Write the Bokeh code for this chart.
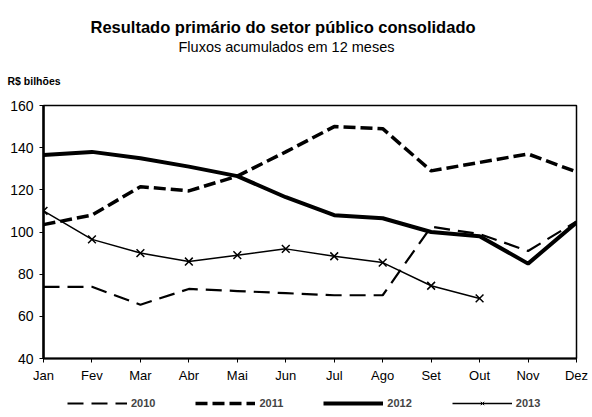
from bokeh.plotting import figure
from bokeh.layouts import column
from bokeh.models import Range1d, FixedTicker, Title, Legend, LegendItem
from bokeh.embed import file_html
from bokeh.resources import INLINE

months = ["Jan", "Fev", "Mar", "Abr", "Mai", "Jun", "Jul", "Ago", "Set", "Out", "Nov", "Dez"]
s2010 = [74, 74, 65.5, 73, 72, 71, 70, 70, 102.5, 99, 91, 105]
s2011 = [103.5, 108, 121.5, 119.5, 126.5, 138, 150, 149, 129, 133, 137, 128.5]
s2012 = [136.5, 138, 135, 131, 126.5, 116.5, 108, 106.5, 100, 98, 85, 104.5]
s2013 = [110, 96.5, 90, 86, 89, 92, 88.5, 85.5, 74.5, 68.5]
y_ticks = [40, 60, 80, 100, 120, 140, 160]
series_names = ["2010", "2011", "2012", "2013"]
title_text = "Resultado primário do setor público consolidado"
subtitle_text = "Fluxos acumulados em 12 meses"
unit_text = "R$ bilhões"

FONT = "Liberation Sans"
xs = list(range(len(months)))
series = {"2010": s2010, "2011": s2011, "2012": s2012, "2013": s2013}

styles = {
    "2010": dict(line_width=2.2, line_dash="16 8"),
    "2011": dict(line_width=3.5, line_dash="12 5"),
    "2012": dict(line_width=4),
    "2013": dict(line_width=1.5),
}

p = figure(width=592, height=390, output_backend="svg", toolbar_location=None,
           x_range=Range1d(0, len(months) - 1), y_range=Range1d(y_ticks[0], y_ticks[-1]),
           min_border_left=43, min_border_right=16, min_border_top=105, min_border_bottom=32)
p.background_fill_color = "white"
p.border_fill_color = "white"
p.outline_line_color = "black"
p.outline_line_width = 1.5
p.xgrid.grid_line_color = None
p.ygrid.grid_line_color = None

p.xaxis.ticker = FixedTicker(ticks=xs)
p.xaxis.major_label_overrides = {i: m for i, m in zip(xs, months)}
p.yaxis.ticker = FixedTicker(ticks=y_ticks)
for ax in (p.xaxis[0], p.yaxis[0]):
    ax.axis_line_color = "black"
    ax.major_tick_line_color = "black"
    ax.major_tick_out = 4
    ax.major_tick_in = 0
    ax.minor_tick_line_color = None
    ax.major_label_text_font = FONT
    ax.major_label_text_color = "black"
    ax.major_label_text_font_size = "13px"
p.yaxis.axis_line_width = 2.5
p.xaxis.axis_line_width = 2
p.yaxis.major_label_standoff = 6
p.xaxis.major_label_standoff = 5
p.yaxis.major_label_text_font_size = "14px"

for name in series_names:
    vals = series[name]
    p.line(xs[:len(vals)], vals, line_color="black", **styles[name])
p.scatter(xs[:len(s2013)], s2013, marker="x", size=11, line_color="black", line_width=1.5)

p.add_layout(Title(text=unit_text, align="left", offset=-36, standoff=37,
                   text_font=FONT, text_font_style="bold", text_font_size="10.5px",
                   text_color="black"), "above")
p.add_layout(Title(text=subtitle_text, align="left", offset=135, standoff=0,
                   text_font=FONT, text_font_style="normal", text_font_size="14.5px",
                   text_color="black"), "above")
p.add_layout(Title(text=title_text, align="left", offset=47, standoff=2,
                   text_font=FONT, text_font_style="bold", text_font_size="16.5px",
                   text_color="black"), "above")

# legend strip (its lines use the same data, kept outside the strip's visible range)
lf = figure(width=592, height=27, output_backend="svg", toolbar_location=None,
            x_range=Range1d(0, 1), y_range=Range1d(0, 1),
            x_axis_location=None, y_axis_location=None,
            min_border=0, outline_line_color=None)
lf.grid.visible = False
items = []
for name in series_names:
    vals = series[name]
    rs = [lf.line(xs[:len(vals)], vals, line_color="black", **styles[name])]
    if name == "2013":
        rs.append(lf.scatter(xs[:len(vals)], vals, marker="x", size=5,
                             line_color="black", line_width=1))
    items.append(LegendItem(label=name, renderers=rs))
legend = Legend(items=items, location=(24, 8), orientation="horizontal",
                padding=0, margin=0, spacing=40,
                glyph_width=60, glyph_height=12, label_standoff=4,
                label_text_font=FONT, label_text_font_style="bold",
                label_text_font_size="11px", label_height=12,
                background_fill_alpha=0, border_line_color=None)
lf.add_layout(legend, "center")

layout = column(p, lf, spacing=0)
open("out.html", "w").write(file_html(layout, INLINE))
